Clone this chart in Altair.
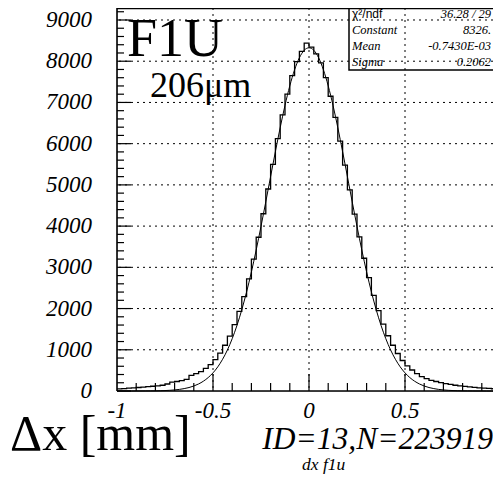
import altair as alt
import pandas as pd

# ---------------- data ----------------
BIN_LOW = -1.0
BIN_WIDTH = 0.025
hist_counts = [
    50, 60, 68, 75, 85, 95, 105, 115, 125, 140,
    170, 215, 230, 250, 280, 380, 420, 470, 550, 640,
    760, 920, 1110, 1330, 1610, 1930, 2290, 2720, 3200, 3730,
    4300, 4900, 5500, 6120, 6700, 7200, 7650, 7990, 8240, 8440,
    8340, 8180, 7960, 7600, 7150, 6640, 6060, 5480, 4880, 4290,
    3740, 3220, 2750, 2320, 1950, 1620, 1340, 1110, 910, 740,
    610, 510, 420, 350, 300, 260, 230, 205, 180, 160,
    140, 125, 110, 98, 88, 78, 70, 62, 55, 48,
]

fit_x = [
    -1.0, -0.975, -0.95, -0.925, -0.9, -0.875, -0.85, -0.825, -0.8, -0.775,
    -0.75, -0.725, -0.7, -0.675, -0.65, -0.625, -0.6, -0.575, -0.55, -0.525,
    -0.5, -0.475, -0.45, -0.425, -0.4, -0.375, -0.35, -0.325, -0.3, -0.275,
    -0.25, -0.225, -0.2, -0.175, -0.15, -0.125, -0.1, -0.075, -0.05, -0.025,
    0.0, 0.025, 0.05, 0.075, 0.1, 0.125, 0.15, 0.175, 0.2, 0.225,
    0.25, 0.275, 0.3, 0.325, 0.35, 0.375, 0.4, 0.425, 0.45, 0.475,
    0.5, 0.525, 0.55, 0.575, 0.6, 0.625, 0.65, 0.675, 0.7, 0.725,
    0.75, 0.775, 0.8, 0.825, 0.85, 0.875, 0.9, 0.925, 0.95, 0.975, 1.0,
]
fit_y = [
    0, 0, 0, 0, 1, 1, 2, 3, 4, 7,
    11, 17, 26, 39, 58, 84, 121, 171, 238, 326,
    440, 586, 770, 995, 1269, 1593, 1972, 2404, 2889, 3421,
    3993, 4591, 5202, 5808, 6390, 6929, 7403, 7793, 8085, 8265,
    8326, 8265, 8085, 7793, 7403, 6929, 6390, 5808, 5202, 4591,
    3993, 3421, 2889, 2404, 1972, 1593, 1269, 995, 770, 586,
    440, 326, 238, 171, 121, 84, 58, 39, 26, 17,
    11, 7, 4, 3, 2, 1, 1, 0, 0, 0, 0,
]

x_labels = [-1, -0.5, 0, 0.5, 1]
x_label_text = ["-1", "-0.5", "0", "0.5", "1"]
y_labels = [0, 1000, 2000, 3000, 4000, 5000, 6000, 7000, 8000, 9000]
y_label_text = ["0", "1000", "2000", "3000", "4000", "5000", "6000", "7000", "8000", "9000"]
x_grid = [-0.5, 0, 0.5]
y_grid = [1000, 2000, 3000, 4000, 5000, 6000, 7000, 8000, 9000]
x_major_ticks = [-0.5, 0, 0.5]
x_minor_ticks = [-0.9, -0.8, -0.7, -0.6, -0.4, -0.3, -0.2, -0.1,
                 0.1, 0.2, 0.3, 0.4, 0.6, 0.7, 0.8, 0.9]
y_major_ticks = y_labels
y_minor_ticks = [v for v in range(200, 9201, 200) if v % 1000 != 0]

stat_names = ["χ²/ndf", "Constant", "Mean", "Sigma"]
stat_values = ["36.28  /  29", "8326.", "-0.7430E-03", "0.2062"]

title_text = "F1U"
sigma_text = "206μm"
xtitle_text = "Δx [mm]"
id_text = "ID=13,N=223919"
hname_text = "dx f1u"

# ---------------- layout ----------------
PX_PER_UNIT = 192          # horizontal scale of the frame
W, H = 376, 383            # right part of the frame runs off the page
X_RIGHT = -1 + W / PX_PER_UNIT
Y_TOP = 9291
SERIF = "Liberation Serif"
ISERIF = "Liberation Serif, Times New Roman, DejaVu Serif, serif"
SANS = "Liberation Sans"

xscale = alt.Scale(domain=[-1, X_RIGHT], nice=False, zero=False)
yscale = alt.Scale(domain=[0, Y_TOP], nice=False, zero=False)

edges = [round(BIN_LOW + i * BIN_WIDTH, 4) for i in range(len(hist_counts) + 1)]
hist_df = pd.DataFrame({"x": edges, "y": hist_counts + [hist_counts[-1]]})
fit_df = pd.DataFrame({"x": fit_x, "y": fit_y})
xlab_df = pd.DataFrame({"v": x_labels, "t": x_label_text})
xlab_df = xlab_df[xlab_df["v"] <= X_RIGHT]          # the "1" label lies off the page
ylab_df = pd.DataFrame({"v": y_labels, "t": y_label_text})


def X(field):
    return alt.X(field, scale=xscale, axis=None)


def Y(field):
    return alt.Y(field, scale=yscale, axis=None)


dots = [2, 4]
one = pd.DataFrame({"k": [0]})

gx = alt.Chart(pd.DataFrame({"v": x_grid})).mark_rule(
    color="black", strokeWidth=1, strokeDash=dots).encode(x=X("v:Q"))
gy = alt.Chart(pd.DataFrame({"v": y_grid})).mark_rule(
    color="black", strokeWidth=1, strokeDash=dots).encode(y=Y("v:Q"))

txM = alt.Chart(pd.DataFrame({"v": x_major_ticks})).mark_rule(color="black", strokeWidth=1.2).encode(
    x=X("v:Q"), y=alt.value(H), y2=alt.value(H - 17))
txm = alt.Chart(pd.DataFrame({"v": x_minor_ticks})).mark_rule(color="black", strokeWidth=1.2).encode(
    x=X("v:Q"), y=alt.value(H), y2=alt.value(H - 8))
tyM = alt.Chart(pd.DataFrame({"v": y_major_ticks})).mark_rule(color="black", strokeWidth=1.2).encode(
    y=Y("v:Q"), x=alt.value(0), x2=alt.value(14))
tym = alt.Chart(pd.DataFrame({"v": y_minor_ticks})).mark_rule(color="black", strokeWidth=1.2).encode(
    y=Y("v:Q"), x=alt.value(0), x2=alt.value(7))

fit = alt.Chart(fit_df).mark_line(color="black", strokeWidth=1, interpolate="monotone").encode(
    x=X("x:Q"), y=Y("y:Q"))

hist = alt.Chart(hist_df).mark_line(color="black", strokeWidth=1.3, interpolate="step-after").encode(
    x=X("x:Q"), y=Y("y:Q"))

# tick labels (italic serif, as in the reference)
xlab = alt.Chart(xlab_df).mark_text(
    font=ISERIF, fontSize=23, fontStyle="italic", align="center", baseline="top",
    color="black").encode(x=X("v:Q"), y=alt.value(H + 9), text="t:N")
ylab = alt.Chart(ylab_df).mark_text(
    font=ISERIF, fontSize=23, fontStyle="italic", align="right", baseline="middle",
    color="black").encode(y=Y("v:Q"), x=alt.value(-25), text="t:N")

# frame: left, top, bottom (right edge is off the page)
frame_l = alt.Chart(one).mark_rule(color="black", strokeWidth=1.6).encode(
    x=alt.value(0), y=alt.value(0), y2=alt.value(H))
frame_t = alt.Chart(one).mark_rule(color="black", strokeWidth=1.6).encode(
    x=alt.value(0), x2=alt.value(W), y=alt.value(0.5))
frame_b = alt.Chart(one).mark_rule(color="black", strokeWidth=1.6).encode(
    x=alt.value(0), x2=alt.value(W), y=alt.value(H))

box = alt.Chart(one).mark_rect(
    fill="white", fillOpacity=0, stroke="black", strokeWidth=1.5).encode(
    x=alt.value(232), x2=alt.value(W + 20), y=alt.value(0), y2=alt.value(62))

layers = [gx, gy, txM, txm, tyM, tym, fit, hist, frame_l, frame_t, frame_b, box, xlab, ylab]

row_y = [6, 21.5, 38, 54]
for i, (name, val) in enumerate(zip(stat_names, stat_values)):
    if i == 0:
        nm = alt.Chart(pd.DataFrame({"t": [name]})).mark_text(
            font=SANS, fontSize=12, align="left", baseline="middle", color="black").encode(
            x=alt.value(235), y=alt.value(row_y[i]), text="t:N")
    else:
        nm = alt.Chart(pd.DataFrame({"t": [name]})).mark_text(
            font=ISERIF, fontSize=12.5, fontStyle="italic", align="left", baseline="middle",
            color="black").encode(x=alt.value(235), y=alt.value(row_y[i]), text="t:N")
    vv = alt.Chart(pd.DataFrame({"t": [val]})).mark_text(
        font=ISERIF, fontSize=12.5, fontStyle="italic", align="right", baseline="middle",
        color="black").encode(x=alt.value(374), y=alt.value(row_y[i]), text="t:N")
    layers += [nm, vv]


def label(txt, x, y, size, align="left", style="normal"):
    return alt.Chart(pd.DataFrame({"t": [txt]})).mark_text(
        font=ISERIF if style == "italic" else SERIF, fontSize=size, fontStyle=style,
        align=align, baseline="alphabetic", color="black").encode(
        x=alt.value(x), y=alt.value(y), text="t:N")


layers += [
    label(title_text, 10, 48, 54),
    label(sigma_text, 33, 89, 36),
    label(xtitle_text, -107, 442, 50),
    label(id_text, 376, 441, 31.5, align="right", style="italic"),
    label(hname_text, 185, 462, 17.5, style="italic"),
]

chart = alt.layer(*layers).properties(
    width=W, height=H,
    autosize=alt.AutoSizeParams(type="none"),
    padding={"left": 109, "top": 0, "right": 0, "bottom": 84},
).configure_view(stroke=None).configure(background="white")

chart.save("out.html", embed_options={"renderer": "svg", "actions": False})
